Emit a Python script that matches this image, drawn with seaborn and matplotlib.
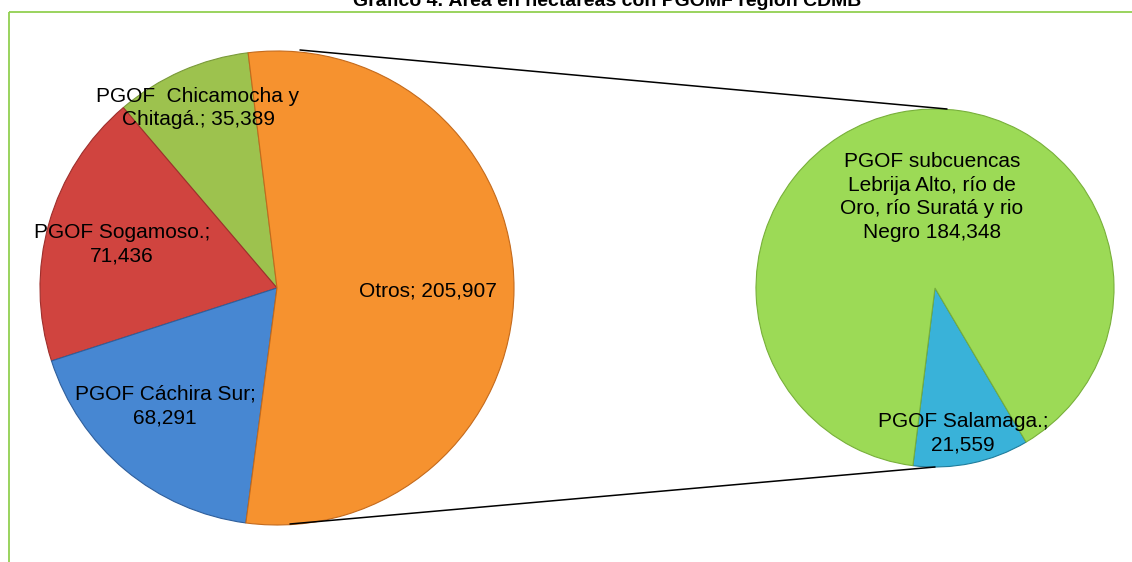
"""
Gráfico 4 - Área en hectáreas con PGOMF región CDMB
Pie-of-pie: la porción "Otros" se abre en el pie secundario de la derecha.
"""
import matplotlib
matplotlib.use("Agg")
import matplotlib.pyplot as plt
import seaborn as sns

# === Datos ===
MAIN_LABELS = ["PGOF  Chicamocha y\nChitagá.", "PGOF Sogamoso.", "PGOF Cáchira Sur", "Otros"]
MAIN_VALUES = [35389, 71436, 68291, 205907]

SUB_LABELS = ["PGOF Salamaga.", "PGOF subcuencas\nLebrija Alto, río de\nOro, río Suratá y rio\nNegro"]
SUB_VALUES = [21559, 184348]

TITLE = "Gráfico 4. Área en hectáreas con PGOMF región CDMB"

# separador entre nombre y valor en cada etiqueta
MAIN_SEP = ["; ", ";\n", ";\n", "; "]
SUB_SEP = [";\n", " "]

# === Colores ===
MAIN_COLORS = sns.color_palette(["#9DC24E", "#D0443F", "#4787D2", "#F6922F"])
MAIN_EDGES = ["#7A9A3A", "#9E2F2C", "#2F5F9C", "#C46A1C"]
SUB_COLORS = sns.color_palette(["#39B2D9", "#9CDA56"])
SUB_EDGES = ["#1F7D9C", "#78B03A"]

W, H = 1132, 562


def fmt(v):
    return f"{v:,}"


def main():
    sns.set_style("white")
    plt.rcParams["font.family"] = ["Liberation Sans", "DejaVu Sans"]

    fig = plt.figure(figsize=(W / 100, H / 100), dpi=100)
    ax = fig.add_axes([0, 0, 1, 1])

    # pie principal
    main_c = (277, H - 288)
    wedges, _ = ax.pie(MAIN_VALUES, colors=MAIN_COLORS, startangle=97, counterclock=True,
                       center=main_c, radius=237, frame=True,
                       wedgeprops=dict(linewidth=0.8))
    for w, ec in zip(wedges, MAIN_EDGES):
        w.set_edgecolor(ec)

    # pie secundario
    sub_c = (935, H - 288)
    wedges2, _ = ax.pie(SUB_VALUES, colors=SUB_COLORS, startangle=262.9, counterclock=True,
                        center=sub_c, radius=179, frame=True,
                        wedgeprops=dict(linewidth=0.8))
    for w, ec in zip(wedges2, SUB_EDGES):
        w.set_edgecolor(ec)

    ax.set_xlim(0, W)
    ax.set_ylim(0, H)
    ax.set_aspect("equal")
    ax.axis("off")

    # marco verde (recortado por el borde de la imagen)
    ax.plot([9, W], [H - 11.5, H - 11.5], color="#92D050", lw=1.3, solid_capstyle="butt")
    ax.plot([9, 9], [H - 11.5, 0], color="#92D050", lw=1.3, solid_capstyle="butt")

    # título (cortado arriba, como en el original)
    ax.text(607, H - 6, TITLE, ha="center", va="baseline", fontsize=14,
            fontweight="bold", color="black")

    # líneas de conexión
    ax.plot([300, 947], [H - 50, H - 109], color="black", lw=1.1)
    ax.plot([290, 935], [H - 524, H - 467], color="black", lw=1.1)

    # etiquetas
    fs = 15
    label_pos_main = [(198, 108), (122, 244), (165, 406), (428, 291)]
    for lab, sep, val, (x, y) in zip(MAIN_LABELS, MAIN_SEP, MAIN_VALUES, label_pos_main):
        ax.text(x, H - y, f"{lab}{sep}{fmt(val)}", ha="center", va="center",
                fontsize=fs, linespacing=1.32, color="black")

    label_pos_sub = [(963, 433), (932, 197)]
    for lab, sep, val, (x, y) in zip(SUB_LABELS, SUB_SEP, SUB_VALUES, label_pos_sub):
        ax.text(x, H - y, f"{lab}{sep}{fmt(val)}", ha="center", va="center",
                fontsize=fs, linespacing=1.32, color="black")

    fig.savefig("out.png", dpi=100)
    plt.close(fig)


if __name__ == "__main__":
    main()
